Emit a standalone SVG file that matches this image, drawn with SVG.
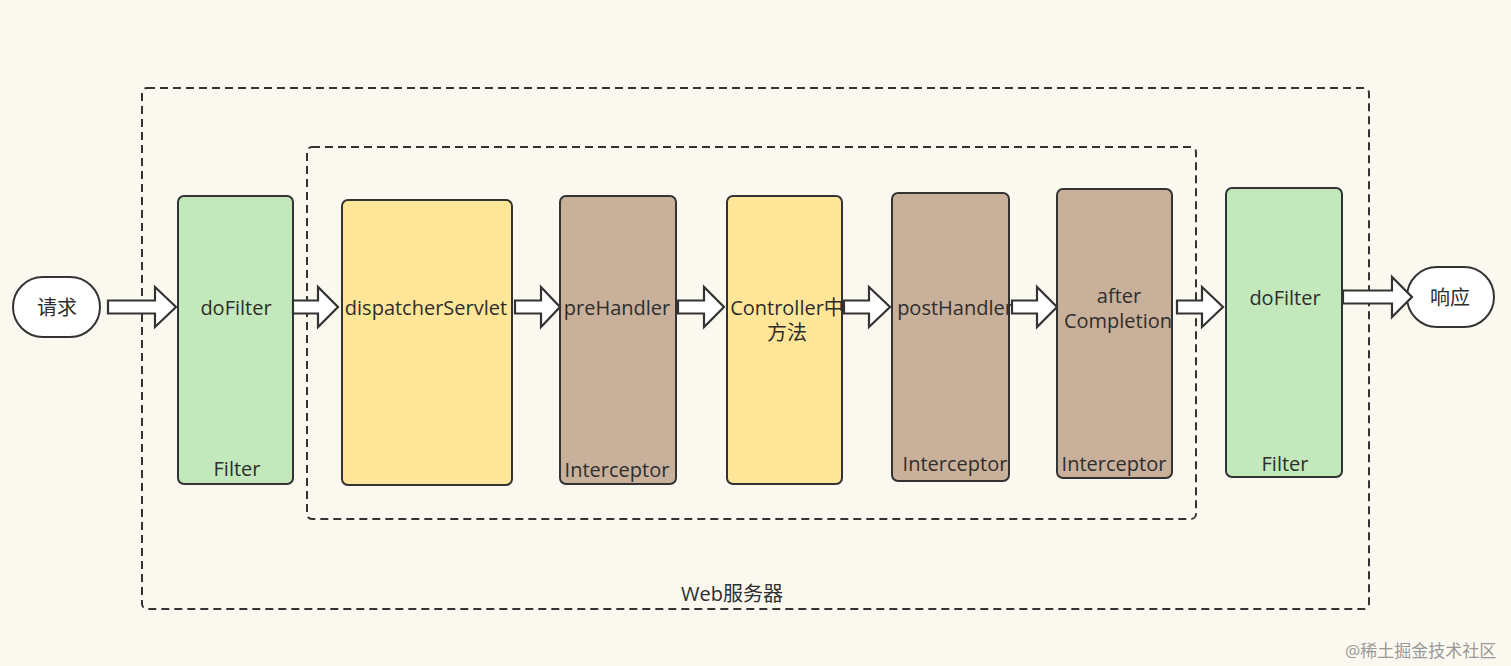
<svg xmlns="http://www.w3.org/2000/svg" width="1511" height="666" viewBox="0 0 1511 666">
<defs>
<style>
.bg{fill:#fbf9ef}
.box{stroke:#333;stroke-width:2}
.green{fill:#c2e8bc}
.yellow{fill:#ffe699}
.brown{fill:#c9b09a}
.pill{fill:#fff;stroke:#333;stroke-width:2}
.dash{fill:none;stroke:#333;stroke-width:2;stroke-dasharray:8 5}
.arrow{fill:#fff;stroke:#333;stroke-width:2.2;stroke-linejoin:miter}
text{font-family:"Open Sans","Noto Sans CJK SC",sans-serif;font-size:20px;fill:#2e2e2e;text-anchor:middle;dominant-baseline:central}
.wm{font-size:17px;fill:#999;text-anchor:start}
</style>
</defs>
<rect class="bg" x="0" y="0" width="1511" height="666"/>
<g id="web-server">
<rect class="dash" x="142" y="88" width="1227" height="521" rx="5"/>
<text x="732" y="593">Web服务器</text>
</g>
<g id="dispatcher-scope">
<rect class="dash" x="307" y="147" width="889" height="372" rx="5"/>
</g>
<g id="request">
<rect class="pill" x="13" y="277" width="87" height="60" rx="30"/>
<text x="57" y="307">请求</text>
</g>
<g id="dofilter-in">
<rect class="box green" x="178" y="196" width="115" height="288" rx="6"/>
<text x="236" y="307">doFilter</text>
<text x="237" y="468">Filter</text>
</g>
<g id="dispatcher">
<rect class="box yellow" x="342" y="200" width="170" height="285" rx="6"/>
<text x="426" y="307">dispatcherServlet</text>
</g>
<g id="prehandler">
<rect class="box brown" x="560" y="196" width="116" height="288" rx="6"/>
<text x="617" y="307">preHandler</text>
<text x="617" y="469">Interceptor</text>
</g>
<g id="controller">
<rect class="box yellow" x="727" y="196" width="115" height="288" rx="6"/>
<text x="787" y="307">Controller中</text>
<text x="787" y="332">方法</text>
</g>
<g id="posthandler">
<rect class="box brown" x="892" y="193" width="117" height="288" rx="6"/>
<text x="955" y="307">postHandler</text>
<text x="955" y="463">Interceptor</text>
</g>
<g id="aftercompletion">
<rect class="box brown" x="1057" y="189" width="115" height="289" rx="6"/>
<text x="1119" y="295">after</text>
<text x="1118" y="320">Completion</text>
<text x="1114" y="463">Interceptor</text>
</g>
<g id="dofilter-out">
<rect class="box green" x="1226" y="188" width="116" height="289" rx="6"/>
<text x="1285" y="297">doFilter</text>
<text x="1285" y="463">Filter</text>
</g>
<g id="response">
<rect class="pill" x="1407" y="267" width="87" height="60" rx="30"/>
<text x="1450" y="297">响应</text>
</g>
<g id="connectors">
<polygon class="arrow" points="108,300.5 155,300.5 155,287 176,307 155,327 155,313.5 108,313.5"/>
<polygon class="arrow" points="293,300.5 318,300.5 318,287 338,307 318,327 318,313.5 293,313.5"/>
<polygon class="arrow" points="515,300.5 541,300.5 541,287 560,307 541,327 541,313.5 515,313.5"/>
<polygon class="arrow" points="678,300.5 704,300.5 704,287 724,307 704,327 704,313.5 678,313.5"/>
<polygon class="arrow" points="844,300.5 869,300.5 869,287 890,307 869,327 869,313.5 844,313.5"/>
<polygon class="arrow" points="1012,300.5 1037,300.5 1037,287 1057,307 1037,327 1037,313.5 1012,313.5"/>
<polygon class="arrow" points="1177,300.5 1202,300.5 1202,287 1223,307 1202,327 1202,313.5 1177,313.5"/>
<polygon class="arrow" points="1343,290.5 1392,290.5 1392,277 1412,297 1392,317 1392,303.5 1343,303.5"/>
</g>
<text class="wm" x="1345" y="650">@稀土掘金技术社区</text>
</svg>
